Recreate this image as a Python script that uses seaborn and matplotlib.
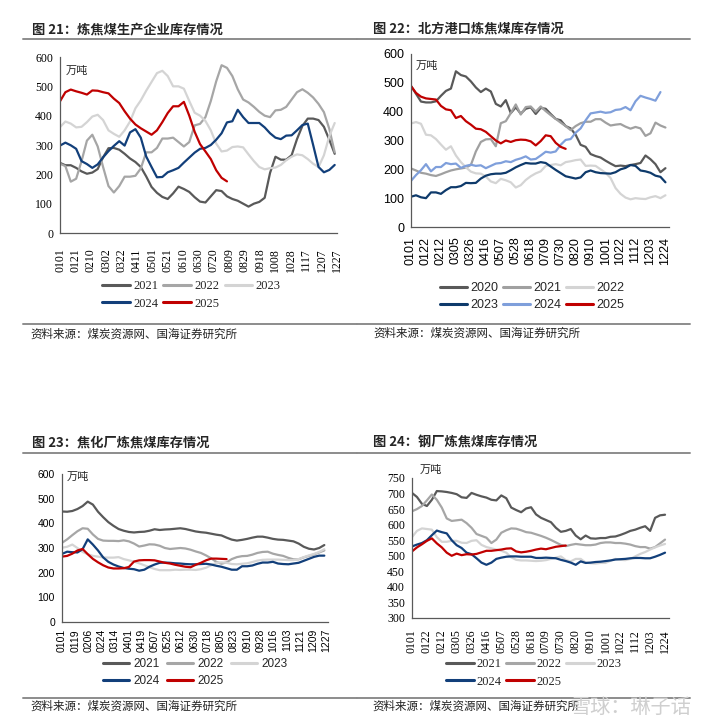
import numpy as np
import pandas as pd
import seaborn as sns
import matplotlib.pyplot as plt
from matplotlib.lines import Line2D

# ================================
# Datos (lectura semanal, día 0 = 01-01)
# ================================
p1_years = ["2021", "2022", "2023", "2024", "2025"]
p1_2021 = [239, 231, 231, 222, 210, 202, 206, 218, 258, 289, 290, 284, 270, 254, 242, 225, 193, 157, 137, 123,
           116, 135, 158, 150, 140, 122, 107, 104, 125, 146, 143, 125, 116, 110, 100, 90, 100, 106, 120, 205,
           260, 250, 250, 265, 320, 365, 390, 390, 385, 362, 318, 270]
p1_2022 = [236, 228, 175, 185, 245, 315, 335, 295, 225, 160, 138, 160, 192, 192, 195, 220, 275, 275, 290, 322,
           322, 325, 310, 295, 310, 367, 372, 395, 450, 517, 572, 563, 535, 490, 455, 445, 430, 413, 400, 395,
           418, 420, 430, 455, 480, 490, 478, 462, 440, 412, 355, 275]
p1_2023 = [361, 380, 373, 360, 362, 378, 397, 403, 385, 350, 338, 328, 350, 380, 425, 452, 485, 515, 545, 553,
           535, 500, 500, 492, 450, 410, 400, 382, 350, 305, 278, 281, 293, 295, 292, 268, 245, 225, 217, 221,
           223, 232, 248, 260, 268, 265, 252, 236, 225, 265, 330, 375]
p1_2024 = [298, 308, 299, 287, 245, 235, 222, 234, 258, 279, 297, 313, 298, 343, 354, 325, 261, 225, 190, 191,
           207, 214, 222, 240, 257, 274, 287, 290, 300, 318, 340, 377, 381, 420, 395, 375, 375, 375, 360, 340,
           325, 320, 332, 333, 350, 368, 373, 300, 225, 207, 215, 232]
p1_2025 = [449, 480, 489, 483, 478, 472, 486, 485, 480, 476, 458, 443, 415, 390, 370, 357, 346, 335, 350, 378,
           409, 432, 432, 447, 400, 345, 303, 278, 252, 214, 188, 176]
p1_labels = ["0101", "0121", "0210", "0302", "0322", "0411", "0501", "0521", "0610", "0630",
             "0720", "0809", "0829", "0918", "1008", "1028", "1117", "1207", "1227"]

p2_years = ["2020", "2021", "2022", "2023", "2024", "2025"]
p2_2020 = [489, 462, 435, 432, 432, 436, 455, 472, 480, 540, 527, 522, 505, 484, 468, 480, 470, 427, 418, 440,
           395, 415, 393, 410, 415, 392, 413, 410, 392, 375, 370, 350, 342, 320, 285, 278, 253, 246, 241, 230,
           220, 211, 213, 211, 215, 218, 222, 248, 235, 218, 190, 204]
p2_2021 = [203, 196, 188, 185, 180, 177, 183, 190, 196, 200, 203, 206, 215, 262, 295, 304, 305, 280, 360, 367,
           395, 425, 390, 416, 418, 400, 418, 402, 388, 375, 362, 350, 336, 350, 360, 365, 365, 374, 374, 362,
           352, 355, 357, 348, 341, 347, 342, 316, 325, 362, 352, 345]
p2_2022 = [359, 364, 358, 320, 318, 305, 286, 268, 280, 248, 225, 207, 192, 186, 185, 175, 158, 152, 167, 162,
           155, 137, 145, 163, 176, 186, 193, 212, 215, 218, 214, 225, 228, 232, 234, 212, 213, 212, 200, 188,
           170, 135, 115, 102, 96, 100, 98, 97, 103, 107, 100, 110]
p2_2023 = [105, 110, 103, 100, 120, 120, 115, 128, 138, 138, 142, 153, 152, 153, 168, 178, 183, 185, 185, 188,
           197, 207, 215, 222, 220, 220, 225, 222, 210, 198, 187, 176, 172, 168, 172, 190, 196, 190, 187, 186,
           185, 190, 200, 205, 215, 212, 196, 193, 188, 178, 174, 155]
p2_2024 = [160, 180, 197, 218, 193, 208, 208, 222, 218, 220, 205, 212, 216, 212, 214, 204, 212, 220, 222, 228,
           225, 233, 238, 245, 234, 236, 248, 261, 258, 262, 285, 302, 305, 327, 342, 370, 394, 397, 400, 396,
           398, 406, 408, 416, 405, 436, 455, 449, 444, 438, 468]
p2_2025 = [489, 465, 452, 446, 444, 442, 420, 408, 405, 378, 385, 367, 355, 341, 339, 330, 315, 300, 290, 300,
           295, 301, 303, 302, 297, 283, 298, 318, 315, 292, 278, 271]
p2_labels = ["0101", "0122", "0212", "0305", "0326", "0416", "0507", "0528", "0618",
             "0709", "0730", "0820", "0910", "1001", "1022", "1112", "1203", "1224"]

p3_years = ["2021", "2022", "2023", "2024", "2025"]
p3_2021 = [448, 447, 450, 458, 470, 488, 476, 447, 425, 405, 390, 377, 370, 365, 363, 365, 366, 370, 376, 373,
           375, 376, 378, 380, 377, 372, 367, 364, 362, 358, 354, 351, 342, 334, 330, 333, 337, 342, 346, 346,
           342, 337, 334, 333, 330, 327, 318, 305, 297, 294, 300, 312]
p3_2022 = [321, 335, 352, 368, 380, 378, 355, 337, 330, 329, 329, 328, 331, 327, 318, 306, 310, 315, 314, 309,
           300, 296, 298, 300, 298, 293, 286, 280, 270, 258, 244, 236, 242, 255, 263, 267, 268, 273, 280, 284,
           285, 277, 272, 268, 260, 254, 254, 262, 268, 274, 282, 290]
p3_2023 = [301, 305, 314, 300, 284, 275, 268, 265, 262, 261, 261, 263, 255, 250, 245, 238, 230, 222, 215, 210,
           210, 210, 212, 211, 212, 212, 211, 214, 220, 230, 240, 242, 240, 235, 234, 236, 238, 243, 249, 252,
           253, 253, 253, 252, 251, 251, 255, 263, 270, 276, 284, 295]
p3_2024 = [276, 285, 283, 282, 295, 335, 314, 290, 262, 244, 233, 225, 219, 216, 214, 208, 212, 224, 233, 240,
           241, 240, 238, 237, 235, 234, 234, 235, 236, 233, 228, 224, 218, 212, 212, 226, 226, 229, 236, 241,
           241, 244, 237, 235, 234, 237, 240, 248, 256, 264, 269, 269]
p3_2025 = [265, 268, 277, 290, 296, 275, 256, 242, 230, 221, 217, 217, 218, 223, 245, 250, 251, 251, 250, 245,
           240, 237, 232, 228, 224, 222, 232, 240, 250, 257, 257, 256, 255]
p3_labels = ["0101", "0119", "0206", "0224", "0314", "0401", "0419", "0507", "0525", "0612", "0630",
             "0718", "0805", "0823", "0910", "0928", "1016", "1103", "1121", "1209", "1227"]

p4_years = ["2021", "2022", "2023", "2024", "2025"]
p4_2021 = [702, 689, 667, 660, 680, 708, 707, 705, 702, 698, 688, 686, 702, 696, 691, 687, 680, 678, 694, 685,
           655, 647, 640, 652, 656, 633, 622, 615, 608, 590, 577, 580, 586, 565, 553, 565, 556, 555, 557, 557,
           561, 562, 567, 573, 580, 584, 590, 595, 580, 622, 630, 632]
p4_2022 = [643, 650, 660, 678, 697, 680, 655, 620, 612, 614, 616, 605, 590, 570, 564, 558, 541, 552, 574, 582,
           588, 587, 582, 576, 574, 569, 564, 558, 551, 543, 535, 531, 535, 538, 536, 534, 534, 536, 541, 543,
           543, 541, 541, 539, 536, 531, 528, 528, 523, 528, 540, 552]
p4_2023 = [560, 580, 588, 586, 584, 560, 545, 545, 548, 548, 542, 541, 548, 550, 535, 528, 524, 520, 516, 510,
           495, 487, 485, 485, 484, 483, 484, 486, 490, 494, 498, 486, 482, 490, 490, 478, 476, 475, 477, 477,
           484, 490, 487, 486, 490, 498, 506, 512, 520, 527, 533, 538]
p4_2024 = [530, 536, 541, 550, 566, 581, 576, 572, 550, 534, 525, 510, 505, 492, 478, 471, 478, 490, 494, 497,
           498, 498, 497, 497, 497, 493, 493, 494, 493, 492, 487, 483, 478, 471, 482, 477, 478, 480, 481, 483,
           485, 488, 489, 490, 492, 493, 493, 492, 492, 497, 503, 510]
p4_2025 = [514, 527, 537, 548, 556, 540, 527, 510, 500, 507, 502, 505, 504, 506, 511, 516, 516, 518, 520, 523,
           524, 514, 511, 513, 516, 520, 523, 521, 525, 529, 531, 533]
p4_labels = p2_labels

source = "资料来源：煤炭资源网、国海证券研究所"

# ================================
# Estilo
# ================================
sns.set_style("white")
plt.rcParams["font.family"] = ["Noto Sans CJK SC", "DejaVu Sans"]
plt.rcParams["axes.unicode_minus"] = False

W, H = 714, 728
fig = plt.figure(figsize=(W / 100, H / 100), dpi=100)


def fx(x):
    return x / W


def fy(y):
    return 1 - y / H


def hline(x0, x1, y):
    fig.add_artist(Line2D([fx(x0), fx(x1)], [fy(y), fy(y)], transform=fig.transFigure,
                          color="#8c8c8c", lw=1.4))


def draw_panel(box, xmax, years, values, colors, labels, step, yticks, ylim,
               tick_font, tick_size, xdir, xpad, title, title_xy, unit_xy,
               leg_xy, leg_kw, rules, src_xy):
    l, t, r, b = box
    ax = fig.add_axes([fx(l), fy(b), fx(r) - fx(l), fy(t) - fy(b)])

    rows = []
    for yr, vals in zip(years, values):
        days = np.arange(len(vals)) * 7
        rows.append(pd.DataFrame({"day": days, "value": vals, "year": yr}))
    df = pd.concat(rows, ignore_index=True)

    sns.lineplot(data=df, x="day", y="value", hue="year", palette=colors,
                 linewidth=1.6, ax=ax, legend=False, estimator=None)

    ax.set_xlim(0, xmax)
    ax.set_ylim(*ylim)
    ax.set_xticks(np.arange(len(labels)) * step)
    ax.set_xticklabels(labels, rotation=90, fontfamily=tick_font, fontsize=tick_size)
    ax.set_yticks(yticks)
    ax.set_yticklabels([str(v) for v in yticks], fontfamily=tick_font, fontsize=tick_size)
    ax.set_xlabel("")
    ax.set_ylabel("")
    ax.tick_params(axis="x", direction=xdir, length=3, width=0.8, pad=xpad, colors="#404040",
                   labelcolor="black")
    ax.tick_params(axis="y", direction="out", length=3, width=0.8, pad=2, colors="#404040",
                   labelcolor="black")
    for s in ["top", "right"]:
        ax.spines[s].set_visible(False)
    for s in ["left", "bottom"]:
        ax.spines[s].set_color("#595959")
        ax.spines[s].set_linewidth(0.9)
    ax.grid(False)

    # leyenda en orden por filas
    n = len(years)
    order = [0, 3, 1, 4, 2] if n == 5 else [0, 3, 1, 4, 2, 5]
    handles = [Line2D([], [], color=colors[i], lw=2.2) for i in order]
    names = [years[i] for i in order]
    ax.legend(handles, names, ncol=3, loc="upper left",
              bbox_to_anchor=(fx(leg_xy[0]), fy(leg_xy[1])), bbox_transform=fig.transFigure,
              frameon=False, borderpad=0, borderaxespad=0,
              prop={"family": tick_font, "size": leg_kw["size"]},
              handlelength=leg_kw["hl"], handletextpad=leg_kw["tp"],
              columnspacing=leg_kw["cs"], labelspacing=leg_kw["ls"])

    fig.text(fx(title_xy[0]), fy(title_xy[1]), title, fontsize=9.5, fontweight="bold",
             ha="left", va="center")
    fig.text(fx(unit_xy[0]), fy(unit_xy[1]), "万吨", fontsize=8, ha="left", va="center")
    hline(rules[0], rules[1], rules[2])
    hline(rules[0], rules[1], rules[3])
    fig.text(fx(src_xy[0]), fy(src_xy[1]), source, fontsize=8.3, ha="left", va="center",
             color="#222222")
    return ax


# ==========================================================
# 图21 炼焦煤生产企业库存
# ==========================================================
draw_panel((60, 57, 337, 233), 360, p1_years, [p1_2021, p1_2022, p1_2023, p1_2024, p1_2025],
           ["#595959", "#a6a6a6", "#d4d4d4", "#123f7a", "#c00000"],
           p1_labels, 20, list(range(0, 601, 100)), (0, 600),
           "Liberation Serif", 8.5, "in", 11,
           "图 21：炼焦煤生产企业库存情况", (32, 29), (66, 71),
           (102, 280), {"size": 9, "hl": 2.2, "tp": 0.3, "cs": 0.4, "ls": 0.45},
           (23, 357, 39, 324), (30, 334))

# ==========================================================
# 图22 北方港口炼焦煤库存
# ==========================================================
draw_panel((411, 54, 669, 227), 362, p2_years, [p2_2020, p2_2021, p2_2022, p2_2023, p2_2024, p2_2025],
           ["#595959", "#a0a0a0", "#d4d4d4", "#0e3a6b", "#7f9fdb", "#c00000"],
           p2_labels, 21, list(range(0, 601, 100)), (0, 600),
           "Liberation Sans", 9, "out", 4,
           "图 22：北方港口炼焦煤库存情况", (373, 29), (416, 66),
           (440, 282), {"size": 9, "hl": 2.15, "tp": 0.3, "cs": 0.35, "ls": 0.4},
           (357, 690, 39, 324), (373, 333))

# ==========================================================
# 图23 焦化厂炼焦煤库存
# ==========================================================
draw_panel((62, 474, 328, 622), 362, p3_years, [p3_2021, p3_2022, p3_2023, p3_2024, p3_2025],
           ["#595959", "#a6a6a6", "#d4d4d4", "#123f7a", "#c00000"],
           p3_labels, 18, list(range(0, 601, 100)), (0, 600),
           "Liberation Sans", 7.5, "out", 2,
           "图 23：焦化厂炼焦煤库存情况", (32, 443), (67, 477),
           (103, 658), {"size": 8.5, "hl": 2.2, "tp": 0.4, "cs": 0.6, "ls": 0.45},
           (23, 357, 453, 698), (30, 706))

# ==========================================================
# 图24 钢厂炼焦煤库存
# ==========================================================
draw_panel((412, 478, 669, 618), 362.6, p4_years, [p4_2021, p4_2022, p4_2023, p4_2024, p4_2025],
           ["#595959", "#a6a6a6", "#d4d4d4", "#123f7a", "#c00000"],
           p4_labels, 21, list(range(300, 751, 50)), (300, 750),
           "Liberation Serif", 8.5, "in", 8,
           "图 24：钢厂炼焦煤库存情况", (373, 443), (420, 470),
           (446, 658), {"size": 9, "hl": 2.2, "tp": 0.2, "cs": 0.4, "ls": 0.45},
           (357, 690, 453, 698), (372, 706))

# marca de agua
fig.text(fx(570), fy(707), "雪球：琳子话", fontsize=14.5, color="#cfcfcf", ha="left", va="center")

fig.savefig("out.png", dpi=100)
